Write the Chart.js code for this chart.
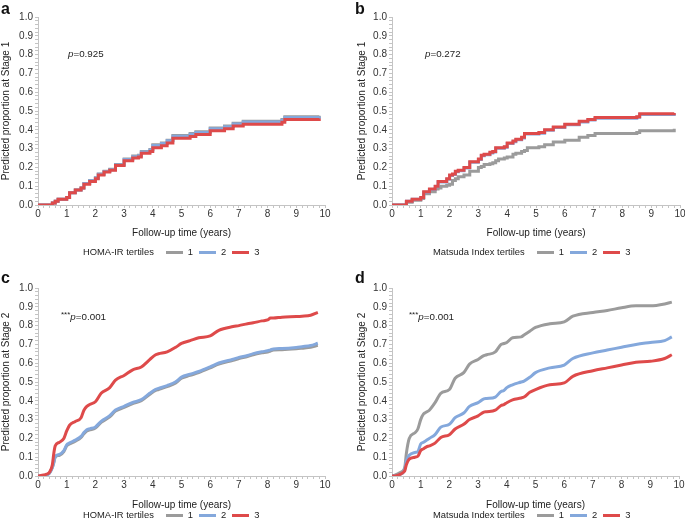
<!DOCTYPE html>
<html>
<head>
<meta charset="utf-8">
<script src="https://cdn.jsdelivr.net/npm/chart.js@4.4.1/dist/chart.umd.min.js"></script>
<style>
  html,body{margin:0;padding:0;background:#fff;}
  body{width:685px;height:529px;position:relative;overflow:hidden;font-family:"Liberation Sans",Arial,sans-serif;color:#222;}
  canvas{position:absolute;}
  .lbl{position:absolute;font-weight:bold;font-size:16px;line-height:16px;color:#111;}
  .pv{position:absolute;font-size:9.8px;line-height:12px;color:#222;white-space:nowrap;}
  .pv sup{font-size:8px;vertical-align:3px;line-height:0;}
  .leg{position:absolute;font-size:9.4px;line-height:12px;color:#222;white-space:nowrap;}
  .leg span.sw{display:inline-block;width:17px;height:3px;vertical-align:middle;margin:0 5px 1px 0;}
  .leg span.it{margin-right:6px;}
</style>
</head>
<body>
<canvas id="ca"></canvas>
<canvas id="cb"></canvas>
<canvas id="cc"></canvas>
<canvas id="cd"></canvas>

<div class="lbl" style="left:1px;top:1px;">a</div>
<div class="lbl" style="left:355px;top:1px;">b</div>
<div class="lbl" style="left:1px;top:270px;">c</div>
<div class="lbl" style="left:355px;top:270px;">d</div>

<div class="pv" style="left:68px;top:48px;"><i>p</i>=0.925</div>
<div class="pv" style="left:425px;top:48px;"><i>p</i>=0.272</div>
<div class="pv" style="left:61px;top:311px;"><sup>***</sup><i>p</i>=0.001</div>
<div class="pv" style="left:409px;top:311px;"><sup>***</sup><i>p</i>=0.001</div>

<div id="lega" class="leg" style="left:83px;top:246px;"></div>
<div id="legb" class="leg" style="left:433px;top:246px;"></div>
<div id="legc" class="leg" style="left:83px;top:509px;"></div>
<div id="legd" class="leg" style="left:433px;top:509px;"></div>

<script>
// ---------- data ----------
const seriesNames = ["1", "2", "3"];
const legendTitles = ["HOMA-IR tertiles", "Matsuda Index tertiles"];
const yTitles = ["Predicted proportion at Stage 1", "Predicted proportion at Stage 2"];
const xTitle = "Follow-up time (years)";

// Panel a: Stage 1 by HOMA-IR tertiles
const aTime = [0,0.45,0.5,0.6,0.7,1.0,1.1,1.3,1.5,1.6,1.8,2.0,2.1,2.3,2.5,2.7,3.0,3.3,3.5,3.6,3.9,4.0,4.3,4.5,4.7,5.0,5.3,5.5,6.0,6.5,6.8,7.15,8.5,8.6,9.8];
const aGray = [0,0,0.01,0.02,0.03,0.04,0.065,0.08,0.09,0.115,0.13,0.145,0.165,0.18,0.19,0.215,0.245,0.26,0.265,0.285,0.295,0.32,0.33,0.345,0.37,0.37,0.38,0.39,0.41,0.42,0.435,0.445,0.455,0.47,0.475];
const aBlue = [0,0,0.01,0.02,0.03,0.04,0.065,0.08,0.09,0.114,0.129,0.143,0.163,0.178,0.188,0.213,0.242,0.257,0.262,0.282,0.292,0.317,0.327,0.342,0.366,0.366,0.376,0.386,0.406,0.416,0.431,0.441,0.451,0.466,0.471];
const aRed = [0,0,0.01,0.02,0.03,0.04,0.065,0.08,0.09,0.11,0.125,0.14,0.16,0.175,0.185,0.21,0.235,0.25,0.255,0.275,0.285,0.305,0.315,0.33,0.355,0.355,0.365,0.375,0.395,0.405,0.42,0.43,0.44,0.455,0.46];

// Panel b: Stage 1 by Matsuda Index tertiles
const bTime = [0,0.45,0.5,0.7,1.0,1.1,1.3,1.5,1.6,1.7,1.9,2.0,2.1,2.2,2.3,2.5,2.7,3.0,3.1,3.2,3.4,3.5,3.6,3.7,3.9,4.0,4.2,4.3,4.5,4.6,4.7,5.1,5.3,5.6,6.0,6.5,6.8,7.05,8.5,8.6,9.8];
const bGray = [0,0,0.015,0.025,0.035,0.06,0.07,0.085,0.09,0.1,0.105,0.11,0.13,0.14,0.15,0.16,0.18,0.2,0.205,0.215,0.22,0.225,0.235,0.245,0.25,0.255,0.27,0.275,0.285,0.29,0.305,0.31,0.32,0.335,0.345,0.36,0.37,0.38,0.385,0.395,0.405];
const bBlue = [0,0,0.02,0.03,0.04,0.068,0.083,0.098,0.122,0.122,0.137,0.157,0.162,0.177,0.182,0.197,0.227,0.242,0.262,0.267,0.277,0.282,0.302,0.302,0.307,0.327,0.337,0.347,0.357,0.377,0.377,0.382,0.397,0.412,0.427,0.442,0.452,0.462,0.467,0.482,0.487];
const bRed = [0,0,0.02,0.03,0.04,0.07,0.085,0.1,0.125,0.125,0.14,0.16,0.165,0.18,0.185,0.2,0.23,0.245,0.265,0.27,0.28,0.285,0.305,0.305,0.31,0.33,0.34,0.35,0.36,0.38,0.38,0.385,0.4,0.415,0.43,0.445,0.455,0.465,0.47,0.485,0.49];

// Panel c: Stage 2 by HOMA-IR tertiles
const cTime = [0,0.2,0.3,0.4,0.5,0.55,0.6,0.75,0.9,1.0,1.1,1.3,1.5,1.6,1.7,1.8,2.0,2.2,2.5,2.7,3.0,3.3,3.6,3.9,4.1,4.2,4.5,4.8,5.0,5.3,5.6,6.0,6.3,6.8,7.0,7.3,7.5,7.8,8.0,8.1,8.2,8.5,9.0,9.2,9.5,9.75];
const cGray = [0,0,0.005,0.015,0.045,0.07,0.1,0.11,0.13,0.16,0.17,0.185,0.205,0.225,0.24,0.245,0.255,0.285,0.315,0.345,0.365,0.385,0.4,0.435,0.455,0.46,0.475,0.495,0.52,0.535,0.55,0.575,0.595,0.615,0.625,0.635,0.645,0.655,0.66,0.665,0.67,0.672,0.677,0.68,0.685,0.695];
const cBlue = [0,0,0.005,0.015,0.045,0.072,0.104,0.115,0.135,0.166,0.176,0.191,0.211,0.231,0.246,0.251,0.261,0.291,0.321,0.351,0.371,0.391,0.406,0.441,0.461,0.466,0.481,0.501,0.526,0.541,0.556,0.581,0.601,0.621,0.631,0.641,0.651,0.661,0.666,0.671,0.676,0.678,0.684,0.688,0.694,0.706];
const cRed = [0,0.005,0.01,0.02,0.06,0.12,0.16,0.18,0.2,0.24,0.27,0.29,0.31,0.35,0.37,0.38,0.395,0.44,0.47,0.51,0.535,0.565,0.58,0.62,0.645,0.65,0.66,0.685,0.705,0.72,0.735,0.745,0.775,0.795,0.8,0.81,0.815,0.825,0.83,0.84,0.84,0.845,0.848,0.85,0.855,0.87];

// Panel d: Stage 2 by Matsuda Index tertiles
const dTime = [0,0.1,0.3,0.4,0.45,0.5,0.6,0.8,0.9,1.0,1.1,1.2,1.3,1.5,1.7,2.0,2.2,2.5,2.7,3.0,3.2,3.3,3.6,3.8,3.9,4.0,4.2,4.5,4.6,4.8,5.0,5.5,6.0,6.3,7.0,7.5,8.0,8.5,9.0,9.5,9.75];
const dGray = [0,0.005,0.02,0.03,0.05,0.12,0.2,0.23,0.25,0.3,0.33,0.34,0.35,0.39,0.44,0.46,0.52,0.55,0.595,0.62,0.64,0.645,0.66,0.7,0.705,0.71,0.735,0.74,0.75,0.77,0.79,0.81,0.82,0.85,0.87,0.88,0.895,0.905,0.905,0.915,0.925];
const dBlue = [0,0,0.01,0.02,0.04,0.08,0.11,0.125,0.13,0.17,0.18,0.19,0.2,0.22,0.26,0.275,0.31,0.335,0.37,0.39,0.41,0.412,0.42,0.45,0.455,0.47,0.485,0.5,0.505,0.525,0.55,0.575,0.59,0.625,0.655,0.67,0.685,0.7,0.71,0.72,0.74];
const dRed = [0,0,0.01,0.02,0.03,0.06,0.09,0.1,0.105,0.135,0.145,0.155,0.16,0.175,0.205,0.22,0.25,0.275,0.3,0.32,0.34,0.342,0.35,0.375,0.38,0.39,0.405,0.415,0.42,0.445,0.46,0.485,0.495,0.53,0.56,0.575,0.59,0.605,0.61,0.625,0.645];

// ---------- styling ----------
const COLORS = ["#9b9b9b", "#84a8dc", "#de4a4a"];
const FONT = '"Liberation Sans", Arial, sans-serif';
Chart.defaults.font.family = FONT;
Chart.defaults.color = "#222";

function pts(t, v){ return t.map((x,i)=>({x:x, y:v[i]})); }

function makePanel(id, pos, layout, time, series, yTitle, stepped){
  const cv = document.getElementById(id);
  cv.style.left = pos.left + "px"; cv.style.top = pos.top + "px";
  cv.width = pos.w; cv.height = pos.h;
  cv.style.width = pos.w + "px"; cv.style.height = pos.h + "px";
  const datasets = series.map((s,i)=>({
    label: seriesNames[i],
    data: pts(time, s),
    borderColor: COLORS[i],
    backgroundColor: COLORS[i],
    borderWidth: 3,
    pointRadius: 0,
    fill: false,
    stepped: stepped ? 'before' : false,
    cubicInterpolationMode: stepped ? 'default' : 'monotone',
    order: 3 - i
  }));
  new Chart(cv, {
    type: 'line',
    data: { datasets },
    options: {
      responsive: false,
      animation: false,
      events: [],
      layout: { padding: { left: layout.left, top: layout.top, right: layout.right, bottom: 0 } },
      plugins: { legend: { display: false }, tooltip: { enabled: false } },
      scales: {
        x: {
          type: 'linear', min: 0, max: 10,
          border: { color: "#c4c4c4", width: 1 },
          grid: { drawOnChartArea: false, drawTicks: true, tickLength: 3, color: "#c4c4c4" },
          ticks: {
            stepSize: 0.2, autoSkip: false, maxRotation: 0, padding: 0,
            font: { size: 10 }, color: "#333",
            callback: v => Math.abs(v - Math.round(v)) < 1e-6 ? String(Math.round(v)) : ''
          },
          title: { display: true, text: xTitle, font: { size: 10 }, color: "#222", padding: { top: 4, bottom: 0 } },
          afterFit: s => { s.height = layout.xh; s.paddingLeft = 0; s.paddingRight = 0; }
        },
        y: {
          type: 'linear', min: 0, max: 1,
          border: { color: "#c4c4c4", width: 1 },
          grid: { drawOnChartArea: false, drawTicks: true, tickLength: 3, color: "#c4c4c4" },
          ticks: {
            stepSize: 0.02, autoSkip: false, padding: 2,
            font: { size: 10 }, color: "#333",
            callback: v => { const r = Math.round(v*10)/10; return Math.abs(v - r) < 1e-6 ? r.toFixed(1) : ''; }
          },
          title: { display: true, text: yTitle, font: { size: 10 }, color: "#222", padding: { top: 0, bottom: 0 } },
          afterFit: s => { s.width = layout.yw; s.paddingTop = 0; s.paddingBottom = 0; }
        }
      }
    }
  });
}

// panel a: chart area x 38..325, y 17..205
makePanel('ca', {left:0, top:0, w:340, h:239}, {left:0, top:17, right:15, yw:38, xh:34}, aTime, [aGray, aBlue, aRed], yTitles[0], true);
// panel b: chart area x 392..680, y 17..205
makePanel('cb', {left:340, top:0, w:345, h:239}, {left:16, top:17, right:5, yw:36, xh:34}, bTime, [bGray, bBlue, bRed], yTitles[0], true);
// panel c: chart area x 38..325, y 288..476
makePanel('cc', {left:0, top:260, w:340, h:251}, {left:0, top:28, right:15, yw:38, xh:35}, cTime, [cGray, cBlue, cRed], yTitles[1], false);
// panel d: chart area x 392..679, y 288..476
makePanel('cd', {left:340, top:260, w:345, h:251}, {left:16, top:28, right:6, yw:36, xh:35}, dTime, [dGray, dBlue, dRed], yTitles[1], false);

function legend(id, title){
  const el = document.getElementById(id);
  let html = '<span class="it" style="margin-right:12px;">' + title + '</span>';
  seriesNames.forEach((n,i)=>{
    html += '<span class="sw" style="background:' + COLORS[i] + '"></span><span class="it">' + n + '</span>';
  });
  el.innerHTML = html;
}
legend('lega', legendTitles[0]);
legend('legb', legendTitles[1]);
legend('legc', legendTitles[0]);
legend('legd', legendTitles[1]);
</script>
</body>
</html>
